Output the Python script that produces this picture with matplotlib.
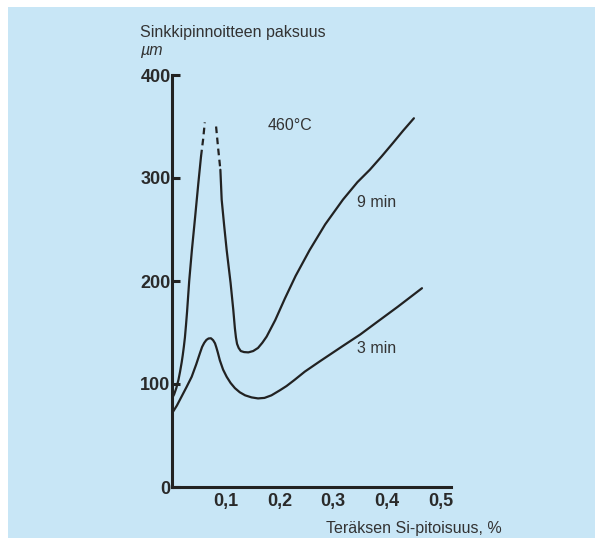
import matplotlib
matplotlib.use("Agg")
import matplotlib.pyplot as plt
from matplotlib.patches import Rectangle

plt.rcParams['font.family'] = ['Liberation Sans', 'DejaVu Sans']

# ---- data ----
# 9 min curve: solid left flank, dashed peak parts, solid right part
nine_left_x = [0.0, 0.004, 0.008, 0.012, 0.015, 0.018, 0.020, 0.022, 0.024, 0.026,
               0.028, 0.030, 0.032, 0.037, 0.043, 0.049, 0.054]
nine_left_y = [86, 90, 96, 104, 112, 121, 128, 136, 145, 157,
               170, 185, 200, 230, 262, 295, 321]
nine_dash_l_x = [0.054, 0.058, 0.061]
nine_dash_l_y = [321, 338, 354]
nine_dash_r_x = [0.082, 0.086, 0.090]
nine_dash_r_y = [350, 328, 308]
nine_right_x = [0.090, 0.0924, 0.097, 0.1017, 0.109, 0.114, 0.117, 0.119, 0.121, 0.124,
                0.128, 0.134, 0.142, 0.151, 0.160, 0.168, 0.176, 0.184, 0.192, 0.21,
                0.23, 0.256, 0.285, 0.318, 0.345, 0.368, 0.39, 0.411, 0.43, 0.450]
nine_right_y = [308, 279, 254, 230, 198, 172, 154, 145, 139, 135,
                132, 131, 130.7, 132, 135, 140, 146, 154, 162, 183,
                205, 230, 255, 279, 296, 308, 321, 334, 346, 358]

# 3 min curve
three_x = [0.0, 0.009, 0.018, 0.027, 0.0366, 0.045, 0.052, 0.056, 0.060, 0.064,
           0.068, 0.0725, 0.0765, 0.080, 0.0825, 0.085, 0.089, 0.095, 0.1017, 0.109,
           0.117, 0.126, 0.136, 0.148, 0.160, 0.172, 0.185, 0.201, 0.213, 0.228,
           0.247, 0.275, 0.318, 0.350, 0.381, 0.42, 0.465]
three_y = [71.5, 79, 88, 97, 107, 119, 130, 136, 140, 142.8,
           144.2, 144.4, 142.5, 139.5, 135.5, 131, 123, 114, 107, 101,
           96, 92, 89, 87, 86, 86.5, 89, 94, 98, 104,
           112, 122, 137, 148, 160, 175, 193]

x_ticks = [0.1, 0.2, 0.3, 0.4, 0.5]
x_tick_labels = ['0,1', '0,2', '0,3', '0,4', '0,5']
y_ticks = [0, 100, 200, 300, 400]
y_tick_labels = ['0', '100', '200', '300', '400']

y_title = 'Sinkkipinnoitteen paksuus'
y_unit = 'µm'
x_title = 'Teräksen Si-pitoisuus, %'
temp_label = '460°C'
label_9 = '9 min'
label_3 = '3 min'

# ---- figure ----
W, H = 595, 538
fig = plt.figure(figsize=(W / 100, H / 100), dpi=100, facecolor='white')
bg = '#c8e6f6'
fig.patches.append(Rectangle((8 / W, 0), 1 - 8 / W, 1 - 7 / H, transform=fig.transFigure,
                             facecolor=bg, edgecolor='none', zorder=-10))

ax = fig.add_axes([172 / W, 1 - 487 / H, (451 - 172) / W, (487 - 75) / H])
ax.set_facecolor('none')
ax.set_xlim(0, 0.519)
ax.set_ylim(0, 400)

ink = '#222222'
lw = 1.6
common = dict(color=ink, lw=lw, solid_capstyle='round', solid_joinstyle='round')
ax.plot(nine_left_x, nine_left_y, **common)
ax.plot(nine_dash_l_x, nine_dash_l_y, color=ink, lw=lw, linestyle=(0, (3, 2)))
ax.plot(nine_dash_r_x, nine_dash_r_y, color=ink, lw=lw, linestyle=(0, (3, 2)))
ax.plot(nine_right_x, nine_right_y, **common)
ax.plot(three_x, three_y, **common)

for s in ['top', 'right']:
    ax.spines[s].set_visible(False)
for s in ['left', 'bottom']:
    ax.spines[s].set_linewidth(2.2)
    ax.spines[s].set_color(ink)

ax.set_xticks(x_ticks)
ax.set_xticklabels(x_tick_labels)
ax.set_yticks(y_ticks)
ax.set_yticklabels(y_tick_labels)
ax.tick_params(axis='x', length=0, pad=4.5, labelsize=13, labelcolor='#2a2a2a')
ax.tick_params(axis='y', direction='in', length=6, width=2.2, color=ink, pad=1,
               labelsize=13, labelcolor='#2a2a2a')
for t in ax.get_xticklabels() + ax.get_yticklabels():
    t.set_fontweight('bold')

txt = '#333333'
ax.text(0.177, 351, temp_label, fontsize=11.5, color=txt, ha='left', va='center')
ax.text(0.344, 276, label_9, fontsize=11.5, color=txt, ha='left', va='center')
ax.text(0.344, 134, label_3, fontsize=11.5, color=txt, ha='left', va='center')

fig.text(140 / W, 1 - 33 / H, y_title, fontsize=11.5, color=txt, ha='left', va='center')
fig.text(140 / W, 1 - 50 / H, y_unit, fontsize=11.5, color=txt, ha='left', va='center',
         style='italic')
fig.text(326 / W, 1 - 529 / H, x_title, fontsize=11.5, color=txt, ha='left', va='center')

fig.savefig('out.png', dpi=100, facecolor='white')
